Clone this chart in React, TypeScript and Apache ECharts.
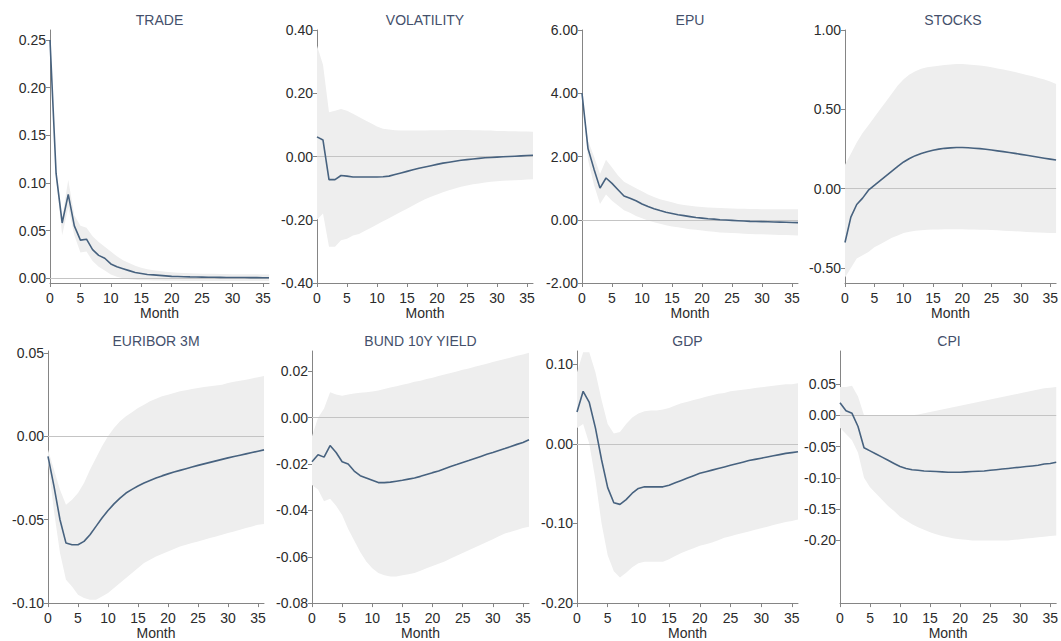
import React, { useEffect, useRef } from "react";
import * as echarts from "echarts";

const months = Array.from({ length: 37 }, (_, i) => i);
const xTickValues = [0, 5, 10, 15, 20, 25, 30, 35];

const titles = ["TRADE", "VOLATILITY", "EPU", "STOCKS", "EURIBOR 3M", "BUND 10Y YIELD", "GDP", "CPI"];

const tradeMean = [0.25,0.11,0.058,0.088,0.055,0.040,0.041,0.030,0.024,0.021,0.015,0.012,0.010,0.008,0.006,0.005,0.004,0.0035,0.003,0.0025,0.002,0.0018,0.0016,0.0014,0.0013,0.0012,0.0011,0.001,0.0009,0.0008,0.0008,0.0007,0.0007,0.0006,0.0006,0.0005,0.0005];
const tradeUpper = [0.25,0.115,0.064,0.103,0.066,0.055,0.053,0.044,0.038,0.033,0.028,0.023,0.019,0.016,0.013,0.011,0.0095,0.0085,0.0075,0.0068,0.0062,0.0058,0.0055,0.0052,0.005,0.0048,0.0047,0.0046,0.0045,0.0044,0.0043,0.0042,0.0042,0.0041,0.0041,0.004,0.004];
const tradeLower = [0.25,0.105,0.045,0.074,0.045,0.027,0.028,0.018,0.012,0.008,0.004,0.0015,0.0,-0.001,-0.0015,-0.002,-0.0022,-0.0024,-0.0025,-0.0026,-0.0027,-0.0027,-0.0028,-0.0028,-0.0028,-0.0029,-0.0029,-0.0029,-0.003,-0.003,-0.003,-0.003,-0.003,-0.003,-0.003,-0.003,-0.003];

const volMean = [0.062,0.052,-0.073,-0.073,-0.060,-0.062,-0.065,-0.065,-0.065,-0.065,-0.065,-0.064,-0.062,-0.057,-0.052,-0.047,-0.042,-0.037,-0.033,-0.029,-0.025,-0.021,-0.018,-0.015,-0.012,-0.010,-0.008,-0.006,-0.004,-0.003,-0.002,-0.001,0.0,0.001,0.002,0.003,0.004];
const volUpper = [0.35,0.29,0.14,0.145,0.15,0.145,0.135,0.125,0.115,0.105,0.095,0.088,0.085,0.083,0.082,0.082,0.082,0.082,0.082,0.083,0.083,0.083,0.084,0.084,0.084,0.084,0.083,0.083,0.082,0.082,0.081,0.081,0.080,0.080,0.079,0.079,0.078];
const volLower = [-0.20,-0.18,-0.285,-0.285,-0.265,-0.26,-0.25,-0.245,-0.235,-0.225,-0.215,-0.205,-0.195,-0.185,-0.175,-0.165,-0.155,-0.145,-0.135,-0.127,-0.12,-0.113,-0.107,-0.101,-0.096,-0.092,-0.088,-0.085,-0.082,-0.080,-0.078,-0.077,-0.076,-0.075,-0.074,-0.073,-0.072];

const epuMean = [4.0,2.25,1.6,1.0,1.32,1.15,0.95,0.75,0.68,0.6,0.5,0.42,0.35,0.29,0.24,0.2,0.16,0.13,0.1,0.07,0.05,0.03,0.02,0.0,-0.01,-0.02,-0.03,-0.04,-0.05,-0.055,-0.06,-0.065,-0.07,-0.075,-0.08,-0.085,-0.09];
const epuUpper = [4.0,2.5,2.0,1.45,1.9,1.65,1.4,1.2,1.1,1.0,0.9,0.8,0.72,0.65,0.6,0.55,0.5,0.47,0.44,0.42,0.4,0.39,0.38,0.37,0.36,0.355,0.35,0.345,0.34,0.34,0.335,0.335,0.33,0.33,0.33,0.33,0.33];
const epuLower = [4.0,1.9,1.1,0.5,0.8,0.6,0.45,0.3,0.22,0.12,0.05,-0.02,-0.08,-0.13,-0.17,-0.21,-0.24,-0.27,-0.3,-0.32,-0.34,-0.36,-0.38,-0.4,-0.41,-0.42,-0.43,-0.44,-0.45,-0.455,-0.46,-0.47,-0.475,-0.48,-0.485,-0.49,-0.5];

const stocksMean = [-0.34,-0.18,-0.10,-0.06,-0.01,0.02,0.05,0.08,0.11,0.14,0.168,0.19,0.208,0.222,0.233,0.242,0.249,0.254,0.257,0.259,0.259,0.258,0.255,0.252,0.248,0.243,0.238,0.233,0.228,0.222,0.216,0.21,0.204,0.198,0.192,0.186,0.18];
const stocksUpper = [0.15,0.22,0.29,0.35,0.40,0.45,0.5,0.55,0.6,0.65,0.69,0.72,0.74,0.755,0.765,0.77,0.775,0.78,0.783,0.785,0.785,0.783,0.78,0.776,0.771,0.765,0.758,0.751,0.743,0.735,0.726,0.717,0.708,0.698,0.688,0.675,0.66];
const stocksLower = [-0.56,-0.5,-0.44,-0.42,-0.4,-0.37,-0.35,-0.33,-0.31,-0.295,-0.28,-0.272,-0.266,-0.262,-0.26,-0.258,-0.257,-0.256,-0.256,-0.256,-0.256,-0.257,-0.258,-0.259,-0.26,-0.261,-0.263,-0.265,-0.267,-0.269,-0.271,-0.273,-0.275,-0.277,-0.278,-0.279,-0.28];

const euriborMean = [-0.012,-0.03,-0.05,-0.064,-0.065,-0.065,-0.063,-0.059,-0.054,-0.049,-0.0445,-0.0405,-0.037,-0.034,-0.0318,-0.0298,-0.028,-0.0265,-0.025,-0.0237,-0.0225,-0.0214,-0.0204,-0.0194,-0.0184,-0.0174,-0.0165,-0.0156,-0.0147,-0.0138,-0.0129,-0.0121,-0.0113,-0.0105,-0.0097,-0.0089,-0.0081];
const euriborUpper = [-0.008,-0.02,-0.032,-0.041,-0.038,-0.034,-0.028,-0.02,-0.013,-0.006,0.0,0.005,0.009,0.012,0.0145,0.017,0.019,0.021,0.0225,0.024,0.025,0.026,0.027,0.0277,0.0284,0.029,0.0296,0.030,0.0305,0.031,0.032,0.0327,0.0334,0.034,0.0347,0.0355,0.0362];
const euriborLower = [-0.015,-0.045,-0.07,-0.086,-0.09,-0.095,-0.097,-0.098,-0.098,-0.096,-0.094,-0.091,-0.088,-0.085,-0.082,-0.079,-0.076,-0.074,-0.072,-0.0705,-0.069,-0.0675,-0.066,-0.065,-0.064,-0.063,-0.062,-0.061,-0.060,-0.059,-0.058,-0.057,-0.056,-0.055,-0.054,-0.053,-0.0525];

const bundMean = [-0.019,-0.016,-0.017,-0.012,-0.015,-0.019,-0.020,-0.023,-0.025,-0.026,-0.027,-0.028,-0.028,-0.0278,-0.0274,-0.027,-0.0265,-0.026,-0.0253,-0.0245,-0.0237,-0.023,-0.022,-0.021,-0.0202,-0.0193,-0.0185,-0.0176,-0.0167,-0.0158,-0.015,-0.0141,-0.0133,-0.0124,-0.0115,-0.0107,-0.0095];
const bundUpper = [-0.008,0.0,0.004,0.011,0.010,0.0095,0.010,0.0105,0.0108,0.011,0.0113,0.0118,0.0124,0.013,0.0136,0.0142,0.0148,0.0155,0.016,0.0167,0.0173,0.018,0.0187,0.0193,0.020,0.0207,0.0213,0.022,0.0227,0.0233,0.024,0.0247,0.0253,0.026,0.0267,0.0273,0.028];
const bundLower = [-0.029,-0.031,-0.036,-0.035,-0.038,-0.042,-0.048,-0.053,-0.058,-0.062,-0.065,-0.067,-0.068,-0.0685,-0.0685,-0.068,-0.0675,-0.067,-0.066,-0.065,-0.064,-0.063,-0.062,-0.0608,-0.0596,-0.0584,-0.0572,-0.056,-0.0548,-0.0536,-0.0524,-0.0512,-0.050,-0.0492,-0.0484,-0.0476,-0.047];

const gdpMean = [0.04,0.066,0.052,0.02,-0.02,-0.055,-0.074,-0.076,-0.07,-0.062,-0.056,-0.054,-0.054,-0.054,-0.054,-0.052,-0.049,-0.046,-0.043,-0.04,-0.037,-0.035,-0.033,-0.031,-0.029,-0.027,-0.025,-0.023,-0.021,-0.0195,-0.018,-0.0165,-0.015,-0.0135,-0.012,-0.011,-0.01];
const gdpUpper = [0.09,0.115,0.115,0.09,0.055,0.025,0.013,0.015,0.025,0.033,0.038,0.041,0.042,0.042,0.043,0.045,0.048,0.051,0.053,0.055,0.057,0.059,0.061,0.063,0.064,0.066,0.067,0.068,0.069,0.07,0.071,0.072,0.073,0.074,0.075,0.075,0.076];
const gdpLower = [0.02,0.025,0.0,-0.045,-0.1,-0.14,-0.16,-0.168,-0.162,-0.155,-0.15,-0.148,-0.148,-0.148,-0.148,-0.145,-0.141,-0.137,-0.134,-0.131,-0.128,-0.126,-0.124,-0.121,-0.118,-0.116,-0.114,-0.112,-0.11,-0.108,-0.106,-0.104,-0.102,-0.1,-0.098,-0.097,-0.095];

const cpiMean = [0.02,0.007,0.003,-0.018,-0.052,-0.057,-0.062,-0.067,-0.072,-0.077,-0.082,-0.085,-0.087,-0.088,-0.089,-0.0895,-0.09,-0.0905,-0.091,-0.091,-0.091,-0.0905,-0.09,-0.0895,-0.089,-0.088,-0.087,-0.086,-0.085,-0.084,-0.083,-0.082,-0.081,-0.08,-0.078,-0.077,-0.075];
const cpiUpper = [0.045,0.045,0.047,0.03,0.0,0.0,-0.001,-0.001,-0.001,-0.001,-0.001,0.0,0.0,0.001,0.003,0.005,0.007,0.009,0.011,0.013,0.015,0.017,0.019,0.021,0.023,0.025,0.027,0.029,0.031,0.033,0.035,0.037,0.039,0.041,0.043,0.044,0.045];
const cpiLower = [-0.02,-0.03,-0.04,-0.06,-0.1,-0.115,-0.125,-0.135,-0.145,-0.153,-0.162,-0.168,-0.174,-0.179,-0.183,-0.187,-0.19,-0.193,-0.195,-0.197,-0.198,-0.199,-0.2,-0.2,-0.2,-0.2,-0.2,-0.2,-0.2,-0.199,-0.198,-0.197,-0.196,-0.195,-0.194,-0.193,-0.192];

const tradeTicks = [0, 0.05, 0.1, 0.15, 0.2, 0.25];
const volTicks = [-0.4, -0.2, 0, 0.2, 0.4];
const epuTicks = [-2, 0, 2, 4, 6];
const stocksTicks = [-0.5, 0, 0.5, 1.0];
const euriborTicks = [-0.1, -0.05, 0, 0.05];
const bundTicks = [-0.08, -0.06, -0.04, -0.02, 0, 0.02];
const gdpTicks = [-0.2, -0.1, 0, 0.1];
const cpiTicks = [-0.2, -0.15, -0.1, -0.05, 0, 0.05];

const means = [tradeMean, volMean, epuMean, stocksMean, euriborMean, bundMean, gdpMean, cpiMean];
const uppers = [tradeUpper, volUpper, epuUpper, stocksUpper, euriborUpper, bundUpper, gdpUpper, cpiUpper];
const lowers = [tradeLower, volLower, epuLower, stocksLower, euriborLower, bundLower, gdpLower, cpiLower];
const yTicks = [tradeTicks, volTicks, epuTicks, stocksTicks, euriborTicks, bundTicks, gdpTicks, cpiTicks];
const yMins = [-0.005, -0.4, -2, -0.595, -0.1, -0.08, -0.2, -0.3];
const yMaxs = [0.2605, 0.4, 6, 1.0, 0.0512, 0.0288, 0.1166, 0.1025];

// layout (px)
const grids = [
  { left: 50, top: 30, width: 219, height: 253 },
  { left: 317, top: 30, width: 216, height: 253 },
  { left: 582, top: 30, width: 216, height: 253 },
  { left: 845, top: 30, width: 216, height: 253 },
  { left: 48, top: 351, width: 216, height: 255 },
  { left: 312, top: 351, width: 217, height: 255 },
  { left: 577, top: 351, width: 221, height: 255 },
  { left: 840, top: 351, width: 218, height: 255 },
];

const FONT = "'Liberation Sans', Arial, Helvetica, sans-serif";
const AXIS_COLOR = "#858585";
const TEXT_COLOR = "#2b2b2b";
const TITLE_COLOR = "#44506b";
const LINE_COLOR = "#47627f";
const BAND_COLOR = "#eeeeee";

export default function App() {
  const ref = useRef<HTMLDivElement>(null);

  useEffect(() => {
    if (!ref.current) return;
    const chart = echarts.init(ref.current, undefined, { renderer: "svg" });

    const xAxis: any[] = [];
    const yAxis: any[] = [];
    const series: any[] = [];
    const graphic: any[] = [];

    grids.forEach((g, i) => {
      xAxis.push({
        type: "value",
        gridIndex: i,
        min: 0,
        max: 36,
        interval: 5,
        name: "Month",
        nameLocation: "middle",
        nameGap: 21,
        nameTextStyle: { fontFamily: FONT, fontSize: 14, color: TEXT_COLOR },
        axisLine: { show: true, onZero: false, lineStyle: { color: AXIS_COLOR, width: 1 } },
        axisTick: { show: true, length: 4, customValues: xTickValues, lineStyle: { color: AXIS_COLOR } },
        axisLabel: { customValues: xTickValues, margin: 8, fontFamily: FONT, fontSize: 14, color: TEXT_COLOR },
        splitLine: { show: false },
      });
      yAxis.push({
        type: "value",
        gridIndex: i,
        min: yMins[i],
        max: yMaxs[i],
        axisLine: { show: true, onZero: false, lineStyle: { color: AXIS_COLOR, width: 1 } },
        axisTick: { show: true, length: 4, customValues: yTicks[i], lineStyle: { color: AXIS_COLOR } },
        axisLabel: {
          customValues: yTicks[i],
          margin: 4,
          fontFamily: FONT,
          fontSize: 14,
          color: TEXT_COLOR,
          formatter: (v: number) => (Math.abs(v) < 1e-9 ? 0 : v).toFixed(2),
        },
        splitLine: { show: false },
      });
      const lo = lowers[i];
      const up = uppers[i];
      series.push({
        type: "custom",
        xAxisIndex: i,
        yAxisIndex: i,
        silent: true,
        clip: true,
        z: 1,
        data: months.map((m) => [m, lo[m], up[m]]),
        encode: { x: 0, y: [1, 2] },
        renderItem: (params: any, api: any) => {
          if (params.dataIndex !== 0) return null;
          const pts: number[][] = [];
          for (let m = 0; m < months.length; m++) pts.push(api.coord([months[m], up[m]]));
          for (let m = months.length - 1; m >= 0; m--) pts.push(api.coord([months[m], lo[m]]));
          return {
            type: "polygon",
            shape: { points: pts },
            style: { fill: BAND_COLOR, stroke: "none" },
          };
        },
      });
      series.push({
        type: "line",
        xAxisIndex: i,
        yAxisIndex: i,
        data: months.map((m) => [m, means[i][m]]),
        symbol: "none",
        lineStyle: { color: LINE_COLOR, width: 1.6 },
        z: 3,
        markLine: {
          silent: true,
          symbol: "none",
          label: { show: false },
          lineStyle: { color: "#c4c4c4", width: 1.2, type: "solid" },
          data: [{ yAxis: 0 }],
          z: 2,
        },
      });
      graphic.push({
        type: "text",
        x: g.left + g.width / 2,
        y: g.top - 10,
        style: {
          text: titles[i],
          textAlign: "center",
          textVerticalAlign: "middle",
          fontFamily: FONT,
          fontSize: 14,
          fill: TITLE_COLOR,
        },
      });
    });

    chart.setOption({
      animation: false,
      backgroundColor: "#ffffff",
      grid: grids.map((g) => ({ ...g, containLabel: false })),
      xAxis,
      yAxis,
      series,
      graphic,
    });

    return () => chart.dispose();
  }, []);

  return (
    <div
      ref={ref}
      style={{ position: "fixed", left: 0, top: 0, width: 1061, height: 641, background: "#fff" }}
    />
  );
}
